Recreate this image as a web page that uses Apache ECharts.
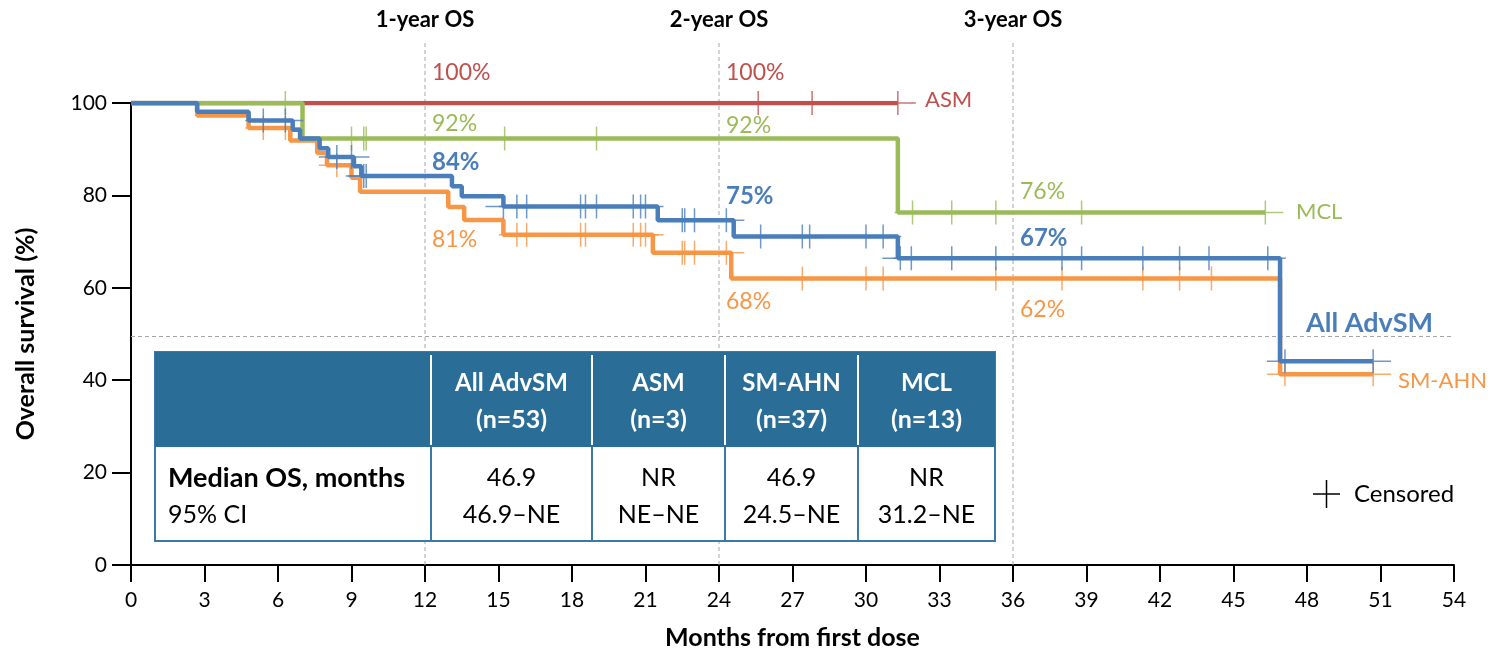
<!DOCTYPE html>
<html>
<head>
<meta charset="utf-8">
<script src="https://cdn.jsdelivr.net/npm/echarts@6/dist/echarts.min.js"></script>
<style>
  html, body { margin: 0; padding: 0; background: #fff; }
  #chart { width: 1493px; height: 652px; }
</style>
</head>
<body>
<div id="chart"></div>
<script>
// Kaplan-Meier steps: [month, survival % from that month on]
const allAdvSM = [[0, 100], [2.7, 98.1], [4.8, 96.2], [6.6, 94.2], [6.9, 92.3], [7.7, 90.2], [8.05, 88.3],
  [9.1, 86.3], [9.4, 84.2], [13.1, 82.0], [13.5, 79.8], [15.2, 77.6], [21.5, 74.6], [24.6, 71.1],
  [31.3, 66.4], [46.9, 44.1], [50.7, 44.1]];
const smAhn = [[0, 100], [2.7, 97.3], [4.8, 94.6], [6.5, 91.9], [7.6, 89.2], [8.0, 86.5], [9.0, 83.8],
  [9.35, 80.8], [12.95, 77.5], [13.6, 74.7], [15.2, 71.5], [21.3, 67.6], [24.5, 62.0], [46.9, 41.3],
  [50.7, 41.3]];
const mcl = [[0, 100], [7.0, 92.3], [31.3, 76.3], [46.3, 76.3]];
const asm = [[0, 100], [31.3, 100]];

// censored observations (months)
const allAdvSMCens = [5.4, 6.3, 8.4, 9.0, 9.5, 9.6, 15.2, 15.75, 16.15, 18.35, 18.55, 19.0, 20.5, 20.8, 21.0,
  22.5, 22.6, 23.0, 24.3, 25.7, 27.4, 27.7, 30.0, 30.7, 31.4, 31.85, 33.5, 35.3, 38.0, 38.8, 41.3, 42.8,
  44.0, 46.4, 47.1, 50.7];
const smAhnCens = [5.4, 6.3, 8.4, 15.75, 16.15, 18.35, 18.55, 20.5, 20.8, 21.0, 22.5, 22.6, 23.0, 24.3, 27.4,
  30.0, 30.7, 35.3, 38.0, 41.3, 42.8, 44.1, 47.1, 50.7];
const mclCens = [6.3, 9.0, 9.5, 9.6, 15.25, 19.0, 31.9, 33.5, 35.3, 38.8, 46.3];
const asmCens = [25.6, 27.8, 31.3];

const milestones = [12, 24, 36];
const milestoneNames = ['1-year OS', '2-year OS', '3-year OS'];
// survival labels at each milestone (ASM, MCL, All AdvSM, SM-AHN)
const pct12 = ['100%', '92%', '84%', '81%'];
const pct24 = ['100%', '92%', '75%', '68%'];
const pct36 = [null, '76%', '67%', '62%'];

const groups = ['All AdvSM', 'ASM', 'SM-AHN', 'MCL'];
const groupN = [53, 3, 37, 13];
const medianOS = ['46.9', 'NR', '46.9', 'NR'];
const medianCI = ['46.9–NE', 'NE–NE', '24.5–NE', '31.2–NE'];

const FONT = 'Lato, "Open Sans", sans-serif';
const C = { all: '#4a7ebb', asm: '#c0504d', ahn: '#f79646', mcl: '#9bbb59' };
const plus = 'path://M17.25,0H18.75V11.25H36V12.75H18.75V24H17.25V12.75H0V11.25H17.25Z';

function levelAt(steps, t) {
  let v = steps[0][1];
  steps.forEach(function (p) { if (p[0] <= t) v = p[1]; });
  return v;
}

function curve(name, steps, color, z) {
  return { name: name, type: 'line', step: 'end', data: steps, showSymbol: false, silent: true, z: z,
    lineStyle: { color: color, width: 4.5 }, itemStyle: { color: color } };
}
function censored(steps, times, color, z) {
  return { type: 'scatter', silent: true, z: z, symbol: plus, symbolSize: [36, 24],
    itemStyle: { color: color }, data: times.map(function (t) { return [t, levelAt(steps, t)]; }) };
}

const chart = echarts.init(document.getElementById('chart'));

const asmSeries = curve('ASM', asm, C.asm, 2);
asmSeries.markLine = {
  silent: true, symbol: 'none', label: { show: false },
  lineStyle: { color: '#a6a6a6', type: [4, 3], width: 1 },
  data: [{ yAxis: 49.5 }]
};

chart.setOption({
  animation: false,
  grid: { left: 131, right: 39, top: 103, bottom: 87, containLabel: false, outerBoundsMode: 'none' },
  xAxis: {
    type: 'value', min: 0, max: 54, interval: 3,
    name: 'Months from first dose', nameLocation: 'middle', nameGap: 60,
    nameTextStyle: { fontFamily: FONT, fontSize: 25, fontWeight: 'bold', color: '#000' },
    axisLine: { lineStyle: { color: '#000', width: 2 } },
    axisTick: { length: 17, lineStyle: { color: '#000', width: 2 } },
    axisLabel: { margin: 25, fontFamily: FONT, fontSize: 21, color: '#000' },
    splitLine: { show: false }
  },
  yAxis: {
    type: 'value', min: 0, max: 100, interval: 20,
    name: 'Overall survival (%)', nameLocation: 'middle', nameGap: 93,
    nameTextStyle: { fontFamily: FONT, fontSize: 25, fontWeight: 'bold', color: '#000' },
    axisLine: { show: true, lineStyle: { color: '#000', width: 2 } },
    axisTick: { show: true, length: 19, lineStyle: { color: '#000', width: 2 } },
    axisLabel: { margin: 24, fontFamily: FONT, fontSize: 21, color: '#000' },
    splitLine: { show: false }
  },
  series: [
    asmSeries,
    censored(asm, asmCens, C.asm, 3),
    curve('SM-AHN', smAhn, C.ahn, 4),
    censored(smAhn, smAhnCens, C.ahn, 5),
    curve('MCL', mcl, C.mcl, 6),
    censored(mcl, mclCens, C.mcl, 7),
    curve('All AdvSM', allAdvSM, C.all, 8),
    censored(allAdvSM, allAdvSMCens, C.all, 9)
  ]
});

// annotations: milestone lines, survival labels, curve names, table, legend
const px = function (x, y) { return chart.convertToPixel({ gridIndex: 0 }, [x, y]); };
const g = [];
const txt = function (text, x, y, o) {
  o = o || {};
  g.push({ type: 'text', x: x, y: y, z: o.z || 50, silent: true,
    style: { text: text, fill: o.color || '#000', font: (o.bold ? 'bold ' : '') + (o.size || 21) + 'px ' + FONT,
      textAlign: o.align || 'left', textVerticalAlign: 'middle' } });
};

const pctSets = [pct12, pct24, pct36];
const pctColors = [C.asm, C.mcl, C.all, C.ahn];
const pctY = [[73, 124, 162, 240], [73, 126, 196, 302], [0, 192, 238, 310]];
milestones.forEach(function (m, i) {
  const x = px(m, 0)[0];
  const yb = px(m, 0)[1];
  g.push({ type: 'line', z: 1, silent: true, shape: { x1: x, y1: 43, x2: x, y2: yb },
    style: { stroke: '#a6a6a6', lineWidth: 1, lineDash: [4, 3] } });
  txt(milestoneNames[i], x, 20, { bold: true, size: 22, align: 'center' });
  pctSets[i].forEach(function (p, k) {
    if (!p) return;
    txt(p, x + 7, pctY[i][k], { color: pctColors[k], bold: k === 2, size: k === 2 ? 24 : 23 });
  });
});

txt('ASM', 925, 100, { color: C.asm, size: 22 });
txt('MCL', 1296, 212, { color: C.mcl, size: 22 });
txt('All AdvSM', 1306, 323, { color: C.all, size: 27, bold: true });
txt('SM-AHN', 1398, 381, { color: C.ahn, size: 22 });

// censored legend
g.push({ type: 'line', silent: true, shape: { x1: 1313, y1: 494, x2: 1340, y2: 494 }, style: { stroke: '#000', lineWidth: 1.5 } });
g.push({ type: 'line', silent: true, shape: { x1: 1326.5, y1: 480, x2: 1326.5, y2: 508 }, style: { stroke: '#000', lineWidth: 1.5 } });
txt('Censored', 1354, 494, { size: 24 });

// summary table
const cols = [155, 431, 592, 725, 858, 995];
const tTop = 352, tMid = 447, tBot = 541;
const tBlue = '#2a6d97', tLine = '#3a7aa8';
g.push({ type: 'rect', z: 100, silent: true, shape: { x: cols[0], y: tTop, width: cols[5] - cols[0], height: tBot - tTop },
  style: { fill: '#fff', stroke: tLine, lineWidth: 2 } });
g.push({ type: 'rect', z: 101, silent: true, shape: { x: cols[0], y: tTop, width: cols[5] - cols[0], height: tMid - tTop },
  style: { fill: tBlue } });
for (let i = 1; i < 5; i++) {
  g.push({ type: 'line', z: 102, silent: true, shape: { x1: cols[i], y1: tTop + 3, x2: cols[i], y2: tMid - 2 },
    style: { stroke: '#fff', lineWidth: 2 } });
  g.push({ type: 'line', z: 102, silent: true, shape: { x1: cols[i], y1: tMid, x2: cols[i], y2: tBot },
    style: { stroke: tLine, lineWidth: 2 } });
}
groups.forEach(function (name, i) {
  const cx = (cols[i + 1] + cols[i + 2]) / 2;
  txt(name, cx, 383, { color: '#fff', bold: true, size: 24, align: 'center', z: 103 });
  txt('(n=' + groupN[i] + ')', cx, 420, { color: '#fff', bold: true, size: 25, align: 'center', z: 103 });
  txt(medianOS[i], cx, 478, { size: 25, align: 'center', z: 103 });
  txt(medianCI[i], cx, 515, { size: 25, align: 'center', z: 103 });
});
txt('Median OS, months', 168, 478, { bold: true, size: 27, z: 103 });
txt('95% CI', 168, 515, { size: 25, z: 103 });

chart.setOption({ graphic: { elements: g } });
</script>
</body>
</html>
